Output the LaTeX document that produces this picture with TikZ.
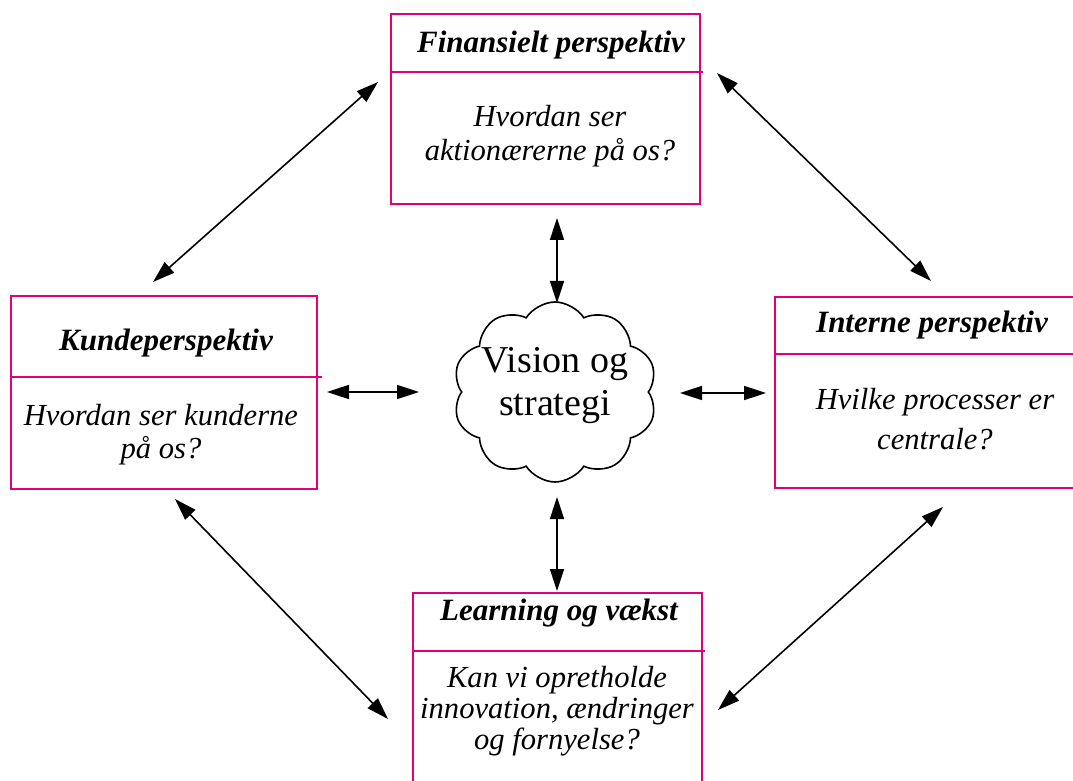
\documentclass[tikz,border=0pt]{standalone}
\usepackage{fontspec}
\setmainfont{Liberation Serif}
\usetikzlibrary{arrows.meta,shapes.symbols}
\definecolor{boksfarve}{RGB}{226,0,122}

\tikzset{
  boks/.style={draw=boksfarve, line width=1pt},
  skille/.style={draw=boksfarve, line width=1pt},
  titel/.style={font=\bfseries\itshape\fontsize{15.5}{18}\selectfont},
  tekst/.style={font=\itshape\fontsize{15.3}{17}\selectfont, align=center},
  sky/.style={draw, cloud, cloud puffs=10, cloud puff arc=115, aspect=1.1,
    line width=0.8pt, minimum width=102pt, minimum height=90pt},
  pil/.style={{Triangle[length=11pt,width=7pt]}-{Triangle[length=11pt,width=7pt]},
    line width=0.8pt}
}

\begin{document}
\begin{tikzpicture}[x=0.5pt,y=-0.5pt]
      \useasboundingbox (0,0) rectangle (1073,781);

      % Perspektiver
      \node[boks, minimum width=154.5pt, minimum height=95pt] (fin) at (545.5,109) {};
      \draw[skille] (391,72) -- (703,72);
      \node[titel] (fin-titel) at (551,45) {Finansielt perspektiv};
      \node[tekst] (fin-tekst) at (550,136) {Hvordan ser\\aktionærerne på os?};

      \node[boks, minimum width=153pt, minimum height=96.5pt] (kunde) at (164,392.5) {};
      \draw[skille] (11,377) -- (322,377);
      \node[titel] (kunde-titel) at (166,343) {Kundeperspektiv};
      \node[tekst, font=\itshape\fontsize{15.3}{16.5}\selectfont] (kunde-tekst) at (161,434.5)
        {Hvordan ser kunderne\\på os?};

      \node[boks, minimum width=150pt, minimum height=95.5pt] (intern) at (925,392.5) {};
      \draw[skille] (775,354) -- (1075,354);
      \node[titel] (intern-titel) at (932,325) {Interne perspektiv};
      \node[tekst, font=\itshape\fontsize{15.3}{20}\selectfont] (intern-tekst) at (935,419)
        {Hvilke processer er\\centrale?};

      \node[boks, minimum width=144.5pt, minimum height=96pt] (laering) at (557.5,689) {};
      \draw[skille] (413,651) -- (705,651);
      \node[titel] (laering-titel) at (559,613) {Learning og vækst};
      \node[tekst, font=\itshape\fontsize{15.3}{15.5}\selectfont] (laering-tekst) at (557,711)
        {Kan vi opretholde\\innovation, ændringer\\og fornyelse?};

      % Vision i midten
      \node[sky] (vision) at (555,392) {};
      \node[align=center, font=\fontsize{19}{21.5}\selectfont] (vision-tekst) at (555,386)
        {Vision og\\strategi};

      % Endepunkter for pilene
      \coordinate (kf1) at (153,282);  \coordinate (kf2) at (378,82);
      \coordinate (fi1) at (717,73);   \coordinate (fi2) at (931,281);
      \coordinate (kl1) at (175,499);  \coordinate (kl2) at (388,719);
      \coordinate (il1) at (943,507);  \coordinate (il2) at (718,710);
      \coordinate (kv1) at (327,392);  \coordinate (kv2) at (419,392);
      \coordinate (vi1) at (680,393);  \coordinate (vi2) at (766,393);
      \coordinate (fv1) at (557,218);  \coordinate (fv2) at (557,303);
      \coordinate (vl1) at (557,497);  \coordinate (vl2) at (557,591);

      % Pile
      \draw[pil] (kf1) -- (kf2);
      \draw[pil] (fi1) -- (fi2);
      \draw[pil] (kl1) -- (kl2);
      \draw[pil] (il1) -- (il2);
      \draw[pil] (kv1) -- (kv2);
      \draw[pil] (vi1) -- (vi2);
      \draw[pil] (fv1) -- (fv2);
      \draw[pil] (vl1) -- (vl2);
    \end{tikzpicture}
\end{document}
